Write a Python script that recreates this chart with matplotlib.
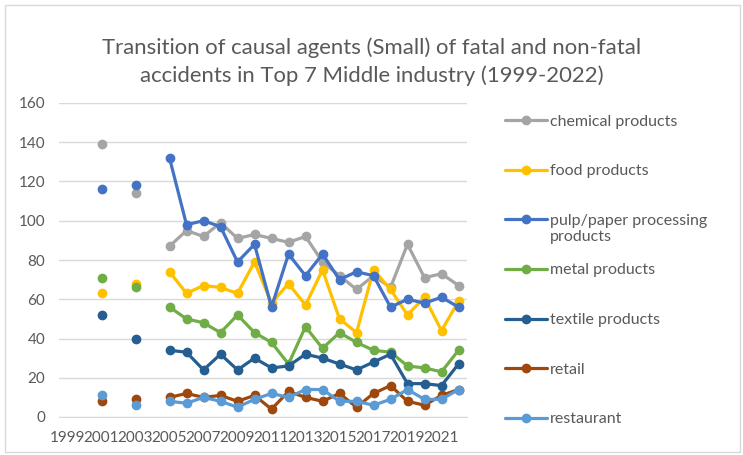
import matplotlib.pyplot as plt
import numpy as np
from matplotlib.patches import Rectangle

nan = np.nan

# Categories 1999..2022
years = [str(y) for y in range(1999, 2023)]

chemical = [nan, 139, nan, 114, nan, 87, 95, 92, 99, 91, 93, 91, 89, 92, 79, 72, 65, 72, 66, 88, 71, 73, 67]
food     = [nan, 63, nan, 68, nan, 74, 63, 67, 66, 63, 79, 58, 68, 57, 75, 50, 43, 75, 65, 52, 61, 44, 59]
pulp     = [nan, 116, nan, 118, nan, 132, 98, 100, 97, 79, 88, 56, 83, 72, 83, 70, 74, 72, 56, 60, 58, 61, 56]
metal    = [nan, 71, nan, 66, nan, 56, 50, 48, 43, 52, 43, 38, 27, 46, 35, 43, 38, 34, 33, 26, 25, 23, 34]
textile  = [nan, 52, nan, 40, nan, 34, 33, 24, 32, 24, 30, 25, 26, 32, 30, 27, 24, 28, 32, 17, 17, 16, 27]
retail   = [nan, 8, nan, 9, nan, 10, 12, 10, 11, 8, 11, 4, 13, 10, 8, 12, 5, 12, 16, 8, 6, 11, 14]
restaurant = [nan, 11, nan, 6, nan, 8, 7, 10, 8, 5, 9, 12, 10, 14, 14, 8, 8, 6, 9, 14, 9, 9, 14]

# first category (1999) is empty for every series
series = [
    ("chemical products", [nan] + chemical, "#A5A5A5"),
    ("food products", [nan] + food, "#FFC000"),
    ("pulp/paper processing", [nan] + pulp, "#4472C4"),
    ("metal products", [nan] + metal, "#70AD47"),
    ("textile products", [nan] + textile, "#255E91"),
    ("retail", [nan] + retail, "#9E480E"),
    ("restaurant", [nan] + restaurant, "#5B9BD5"),
]

plt.rcParams["font.family"] = ["Lato", "DejaVu Sans"]
txt = "#595959"

fig = plt.figure(figsize=(7.43, 4.55), dpi=100)
ax = fig.add_axes([59 / 743, 38 / 455, 408 / 743, 314 / 455])

x = np.arange(len(years))
for label, vals, color in series:
    ax.plot(x, vals, color=color, linewidth=2.3, marker="o", markersize=6,
            label=label, solid_capstyle="round")

ax.set_xlim(-0.5, len(years) - 0.5)
ax.set_ylim(0, 160)
ax.set_yticks(range(0, 161, 20))
ax.set_xticks(x[::2])
ax.set_xticklabels(years[::2])
ax.tick_params(axis="both", length=0, colors=txt, labelsize=11)
ax.tick_params(axis="y", pad=10)
ax.tick_params(axis="x", pad=10)
ax.grid(axis="y", color="#D9D9D9", linewidth=1)
ax.set_axisbelow(True)
for s in ["top", "right", "left"]:
    ax.spines[s].set_visible(False)
ax.spines["bottom"].set_color("#D9D9D9")

fig.text(372 / 743, 1 - 62 / 455,
         "Transition of causal agents (Small) of fatal and non-fatal\naccidents in Top 7 Middle industry (1999-2022)",
         ha="center", va="center", fontsize=15.9, color=txt, linespacing=1.45)

leg = fig.legend(loc="upper left", bbox_to_anchor=(491 / 743, 1 - 100 / 455),
                 frameon=False, fontsize=11.5, labelcolor=txt, handlelength=2.6,
                 handletextpad=0.2, labelspacing=2.22)

# wrapped second line of the pulp/paper legend entry
fig.canvas.draw()
bb = leg.get_texts()[2].get_window_extent()
fig.text(bb.x0 / 743, (bb.y0 - 2) / 455, "products", ha="left", va="top",
         fontsize=11.5, color=txt)

fig.patches.append(Rectangle((5 / 743, 3 / 455), 735 / 743, 447 / 455,
                             transform=fig.transFigure, fill=False,
                             edgecolor="#D9D9D9", linewidth=1))

fig.savefig("out.png", dpi=100)
